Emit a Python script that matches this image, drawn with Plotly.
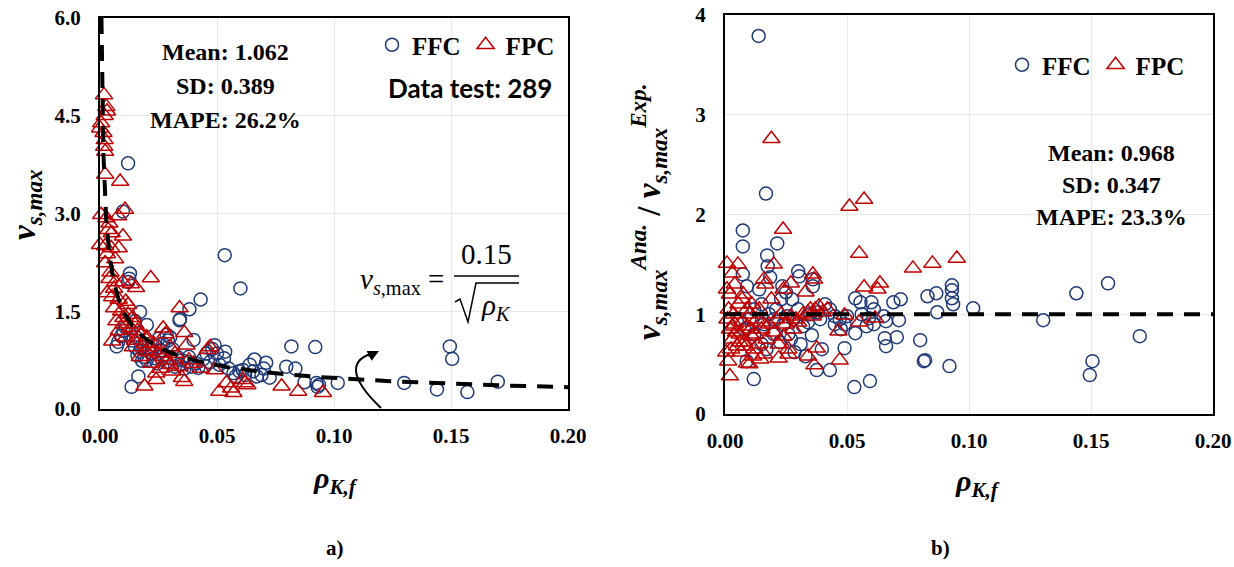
import numpy as np
import plotly.graph_objects as go

# ---------------- data ----------------
# (a) v_s,max vs rho_K,f
ffc_a_x = [0.0120,0.0098,0.0533,0.0600,0.0430,0.0382,0.0342,0.0340,0.0171,0.0200,0.0128,0.0125,0.0120,
           0.0818,0.0920,0.1495,0.1505,0.1300,0.1440,0.1570,0.1700,0.1016,0.0936,0.0930,0.0925,0.0874,
           0.0835,0.0796,0.0725,0.0710,0.0660,0.0690,0.0610,0.0595,0.0620,0.0535,0.0530,0.0490,0.0480,
           0.0455,0.0470,0.0440,0.0400,0.0410,0.0390,0.0375,0.0360,0.0340,0.0320,0.0300,0.0285,0.0290,
           0.0270,0.0260,0.0250,0.0235,0.0220,0.0210,0.0190,0.0180,0.0170,0.0160,0.0150,0.0140,0.0135,
           0.0164,0.0071,0.0078,0.0090,0.0100,0.0110,0.0130,0.0150,0.0155,0.0175,0.0200,0.0230,0.0270,
           0.0310,0.0330,0.0350,0.0380,0.0420,0.0450,0.0500,0.0510,0.0550,0.0570,0.0580,0.0640,0.0655,
           0.0670,0.0700,0.0245,0.0285,0.0265]
ffc_a_y = [3.77,3.03,2.36,1.85,1.68,1.53,1.38,1.36,1.49,1.29,2.08,2.00,1.95,
           0.96,0.95,0.96,0.77,0.40,0.30,0.26,0.42,0.40,0.37,0.34,0.40,0.41,
           0.62,0.65,0.48,0.71,0.76,0.52,0.60,0.58,0.52,0.88,0.78,0.98,0.92,
           0.85,0.72,0.76,1.06,0.70,0.65,0.72,0.62,0.68,0.65,1.10,1.14,1.05,
           1.00,0.90,1.08,0.98,0.85,0.92,0.80,0.74,0.88,0.82,0.95,1.05,0.34,
           0.50,0.96,1.03,1.12,1.20,1.25,1.15,1.35,1.10,0.95,0.75,0.78,0.82,
           0.92,0.80,0.75,0.80,0.63,0.66,0.85,0.68,0.62,0.55,0.50,0.68,0.58,
           0.50,0.62,0.70,0.72,0.76]
fpc_a_x = [0.0017,0.0027,0.0030,0.0020,0.0005,0.0000,0.0015,0.0020,0.0018,0.0022,0.0022,0.0086,0.0107,
           0.0078,0.0005,0.0027,0.0040,0.0035,0.0050,0.0098,0.0000,0.0022,0.0048,0.0080,0.0030,0.0022,
           0.0065,0.0217,0.0040,0.0065,0.0098,0.0132,0.0154,0.0030,0.0052,0.0080,0.0110,0.0060,0.0090,
           0.0120,0.0140,0.0070,0.0100,0.0130,0.0160,0.0180,0.0200,0.0052,0.0110,0.0150,0.0190,0.0210,
           0.0230,0.0250,0.0270,0.0280,0.0270,0.0300,0.0320,0.0340,0.0360,0.0370,0.0380,0.0400,0.0340,
           0.0220,0.0260,0.0300,0.0460,0.0470,0.0190,0.0240,0.0360,0.0350,0.0510,0.0560,0.0570,0.0610,
           0.0630,0.0776,0.0847,0.0953,0.0490,0.0430,0.0240,0.0170,0.0140,0.0080,0.0120,0.0045,0.0060,
           0.0100,0.0150,0.0200,0.0230,0.0290,0.0310,0.0540,0.0620]
fpc_a_y = [4.82,4.64,4.57,4.50,4.39,4.31,4.24,4.13,4.03,3.95,3.60,3.49,3.06,
           2.96,2.98,2.93,2.85,2.75,2.70,2.65,2.52,2.50,2.47,2.47,2.38,2.24,
           2.30,2.01,2.00,1.95,1.95,1.92,1.86,1.78,1.72,1.68,1.65,1.55,1.50,
           1.45,1.40,1.35,1.30,1.25,1.20,1.15,1.10,1.04,1.10,1.05,1.00,0.95,
           0.90,0.85,0.80,1.15,1.24,0.95,0.85,1.55,1.17,0.98,0.75,0.70,0.65,
           0.70,0.62,0.68,0.91,0.95,0.35,0.45,0.42,0.48,0.27,0.32,0.25,0.45,
           0.37,0.35,0.27,0.25,0.60,0.62,0.55,0.80,0.95,1.20,1.60,2.10,1.85,
           1.40,1.30,0.88,1.00,0.75,0.58,0.40,0.40]

# (b) ratio Ana./Exp. vs rho_K,f
ffc_b_x = [0.0138,0.0168,0.0073,0.0073,0.0214,0.0173,0.0175,0.0185,0.0073,0.0300,0.0305,0.0360,0.0360,
           0.0090,0.0140,0.0235,0.0250,0.0275,0.1570,0.1440,0.0930,0.0930,0.0930,0.0935,0.0866,0.0830,
           0.0720,0.0690,0.1017,0.0870,0.1304,0.1700,0.1506,0.1495,0.0920,0.0815,0.0820,0.0800,0.0704,
           0.0660,0.0655,0.0713,0.0660,0.0650,0.0594,0.0530,0.0430,0.0376,0.0397,0.0356,0.0490,0.0534,
           0.0534,0.0555,0.0600,0.0610,0.0610,0.0580,0.0490,0.0470,0.0450,0.0430,0.0410,0.0390,0.0118,
           0.0089,0.0100,0.0120,0.0150,0.0160,0.0180,0.0200,0.0210,0.0230,0.0240,0.0260,0.0270,0.0280,
           0.0300,0.0310,0.0320,0.0340,0.0350,0.0380,0.0150,0.0170,0.0200,0.0225,0.0255,0.0285,0.0330,
           0.0450,0.0475,0.0500,0.0560,0.0590,0.0120,0.0080,0.0060]
ffc_b_y = [3.79,2.21,1.84,1.68,1.71,1.59,1.48,1.37,1.40,1.43,1.38,1.35,1.28,
           1.28,1.25,1.28,1.22,1.15,1.31,1.21,1.29,1.24,1.16,1.10,1.21,1.18,
           1.15,1.12,1.06,1.02,0.94,0.78,0.53,0.39,0.48,0.53,0.54,0.74,0.77,
           0.68,0.76,0.94,0.93,0.98,0.33,0.27,0.44,0.44,0.65,0.79,0.66,0.81,
           1.16,1.12,1.12,1.05,0.90,0.88,0.90,0.95,0.98,1.05,1.10,0.95,0.35,
           0.53,0.95,1.05,1.10,0.90,1.00,0.95,1.05,1.15,0.90,0.80,0.75,0.95,
           1.05,0.70,0.88,0.92,1.00,1.02,0.70,0.65,0.80,0.72,0.98,0.62,0.58,
           0.90,0.85,0.98,1.00,0.96,0.80,0.85,0.95]
fpc_b_x = [0.0190,0.0570,0.0510,0.0238,0.0550,0.0950,0.0850,0.0770,0.0008,0.0053,0.0030,0.0200,0.0008,
           0.0360,0.0365,0.0270,0.0240,0.0330,0.0160,0.0165,0.0635,0.0625,0.0570,0.0615,0.0490,0.0550,
           0.0465,0.0470,0.0376,0.0366,0.0340,0.0220,0.0090,0.0100,0.0020,0.0013,0.0010,0.0020,0.0030,
           0.0040,0.0050,0.0060,0.0070,0.0080,0.0090,0.0100,0.0110,0.0120,0.0130,0.0140,0.0150,0.0160,
           0.0170,0.0180,0.0190,0.0200,0.0210,0.0220,0.0230,0.0250,0.0260,0.0270,0.0280,0.0290,0.0300,
           0.0320,0.0340,0.0350,0.0370,0.0385,0.0400,0.0420,0.0005,0.0015,0.0025,0.0035,0.0045,0.0055,
           0.0065,0.0075,0.0085,0.0105,0.0115,0.0125,0.0135,0.0145,0.0020,0.0040,0.0070,0.0090,0.0110,
           0.0060,0.0030,0.0260,0.0150,0.0240,0.0360]
fpc_b_y = [2.76,2.15,2.08,1.85,1.61,1.56,1.51,1.46,1.51,1.50,1.41,1.50,1.25,
           1.40,1.35,1.31,1.25,1.22,1.35,1.30,1.31,1.25,1.27,0.96,0.99,0.92,
           0.83,0.54,0.66,0.49,0.58,0.56,0.51,0.50,0.38,0.53,0.95,0.85,0.75,
           0.90,0.68,0.80,0.92,0.72,0.88,1.00,0.78,0.65,0.95,1.05,0.85,0.60,
           0.75,0.90,1.15,0.82,0.95,0.70,1.00,0.90,0.65,0.98,0.85,0.95,0.92,
           1.00,1.02,1.05,1.05,1.08,1.02,1.05,0.62,1.05,0.65,1.00,0.82,1.10,
           0.62,1.20,0.68,0.85,0.58,0.80,0.70,0.55,1.20,1.30,1.15,1.05,1.10,
           0.72,0.88,0.60,0.92,0.78,0.98]

# model line v_s,max = 0.15 / sqrt(rho_K), drawn from the top of the axis (v = 6)
coef = 0.15
fit_x = np.geomspace((coef / 6.0) ** 2, 0.2, 400)
fit_y = coef / np.sqrt(fit_x)
ratio_x = [0.0, 0.2]
ratio_y = [1.0, 1.0]

x_ticks = [0.0, 0.05, 0.10, 0.15, 0.20]

# ---------------- styling ----------------
W, H = 1234, 567
BLUE = "#1F3A78"
RED = "#C00000"
SERIF = "Liberation Serif"


def px(x):
    return x / W


def py(y):
    return 1 - y / H


fig = go.Figure()

mk_c = dict(symbol="circle-open", size=13, color=BLUE, line=dict(width=1.5, color=BLUE))
mk_t = dict(symbol="triangle-up-open", size=15, color=RED, line=dict(width=1.5, color=RED))

fig.add_trace(go.Scatter(x=ffc_a_x, y=ffc_a_y, mode="markers", marker=mk_c, name="FFC",
                         xaxis="x", yaxis="y", legend="legend", cliponaxis=False))
fig.add_trace(go.Scatter(x=fpc_a_x, y=fpc_a_y, mode="markers", marker=mk_t, name="FPC",
                         xaxis="x", yaxis="y", legend="legend", cliponaxis=False))
fig.add_trace(go.Scatter(x=fit_x, y=fit_y, mode="lines", showlegend=False,
                         line=dict(color="black", width=4, dash="16px,11px"),
                         xaxis="x", yaxis="y", hoverinfo="skip"))

fig.add_trace(go.Scatter(x=ffc_b_x, y=ffc_b_y, mode="markers", marker=mk_c, name="FFC",
                         xaxis="x2", yaxis="y2", legend="legend2", cliponaxis=False))
fig.add_trace(go.Scatter(x=fpc_b_x, y=fpc_b_y, mode="markers", marker=mk_t, name="FPC",
                         xaxis="x2", yaxis="y2", legend="legend2", cliponaxis=False))
fig.add_trace(go.Scatter(x=ratio_x, y=ratio_y, mode="lines", showlegend=False,
                         line=dict(color="black", width=4, dash="16px,11px"),
                         xaxis="x2", yaxis="y2", hoverinfo="skip"))

tickfont = dict(family=SERIF, size=21, color="black", weight="bold")
common_ax = dict(showline=True, linecolor="black", linewidth=2, mirror=True,
                 showgrid=True, gridcolor="#E8E8E8", gridwidth=1, zeroline=False,
                 ticks="", tickfont=tickfont, automargin=False)

fig.update_layout(
    width=W, height=H, margin=dict(l=0, r=0, t=0, b=0, autoexpand=False),
    paper_bgcolor="white", plot_bgcolor="white",
    font=dict(family=SERIF, color="black"),
    xaxis=dict(domain=[px(100), px(568)], range=[0, 0.2], tickvals=x_ticks,
               tickformat=".2f", anchor="y", ticklabelstandoff=7, **common_ax),
    yaxis=dict(domain=[py(409), py(18)], range=[0, 6], dtick=1.5, tickformat=".1f",
               anchor="x", ticklabelstandoff=13, **common_ax),
    xaxis2=dict(domain=[px(725), px(1213)], range=[0, 0.2], tickvals=x_ticks,
                tickformat=".2f", anchor="y2", ticklabelstandoff=7, **common_ax),
    yaxis2=dict(domain=[py(414), py(15)], range=[0, 4], dtick=1, tickformat="d",
                anchor="x2", ticklabelstandoff=13, **common_ax),
    legend=dict(orientation="h", x=px(560), xanchor="right", y=py(45), yanchor="middle",
                font=dict(family=SERIF, size=25, color="black", weight="bold"),
                bgcolor="rgba(0,0,0,0)", itemwidth=30, tracegroupgap=0),
    legend2=dict(orientation="h", x=px(1190), xanchor="right", y=py(65), yanchor="middle",
                 font=dict(family=SERIF, size=25, color="black", weight="bold"),
                 bgcolor="rgba(0,0,0,0)", itemwidth=30, tracegroupgap=0),
    showlegend=True,
)

ann = []


def text(x, y, t, size, family=SERIF, xanchor="center", angle=0, color="black"):
    ann.append(dict(x=px(x), y=py(y), xref="paper", yref="paper", text=t, showarrow=False,
                    xanchor=xanchor, yanchor="middle", textangle=angle,
                    font=dict(family=family, size=size, color=color)))


# statistics (a)
text(225, 52, "<b>Mean: 1.062</b>", 24)
text(225, 86, "<b>SD: 0.389</b>", 24)
text(225, 120, "<b>MAPE: 26.2%</b>", 24)
text(554, 88, "<b>Data test: 289</b>", 26, family="Lato", xanchor="right")
# statistics (b)
text(1111, 153, "<b>Mean: 0.968</b>", 24)
text(1111, 185, "<b>SD: 0.347</b>", 24)
text(1111, 217, "<b>MAPE: 23.3%</b>", 24)

# axis titles
text(335, 480, "<b><i>ρ</i></b><sub><b><i>K,f</i></b></sub>", 30)
text(977, 483, "<b><i>ρ</i></b><sub><b><i>K,f</i></b></sub>", 30)
text(27, 205, "<b><i>v</i></b><sub><b><i>s,max</i></b></sub>", 33, angle=-90)
text(648, 211, "<b><i>v</i></b><sub><b><i>s,max</i></b></sub><sup><b><i>Ana.</i></b></sup>"
               "<b> / </b><b><i>v</i></b><sub><b><i>s,max</i></b></sub><sup><b><i>Exp.</i></b></sup>",
     33, angle=-90)

# panel labels
text(335, 548, "<b>a)</b>", 21)
text(940, 548, "<b>b)</b>", 21)

# formula
text(446, 281, "<i>v</i><sub><i>s</i>,max</sub> =", 29, xanchor="right")
text(487, 254, "0.15", 29)
text(496, 307, "<i>ρ</i><sub><i>K</i></sub>", 29)

# arrowhead of curved arrow
ann.append(dict(x=px(379), y=py(351), xref="paper", yref="paper", text="", showarrow=True,
                ax=-12, ay=6, arrowhead=2, arrowsize=1.1, arrowwidth=2, arrowcolor="black"))

fig.update_layout(annotations=ann)


def P(x, y):
    return f"{px(x):.5f},{py(y):.5f}"


shapes = [
    # fraction bar
    dict(type="line", xref="paper", yref="paper", x0=px(454), x1=px(519), y0=py(276), y1=py(276),
         line=dict(color="black", width=1.5)),
    # radical sign
    dict(type="path", xref="paper", yref="paper",
         path=f"M {P(455,302)} L {P(460,299)} L {P(468,322)} L {P(476,283)} L {P(519,283)}",
         line=dict(color="black", width=1.5)),
    # curved arrow body
    dict(type="path", xref="paper", yref="paper",
         path=f"M {P(381,408)} Q {P(333,362)} {P(377,352)}",
         line=dict(color="black", width=2)),
]
fig.update_layout(shapes=shapes)

fig.write_html("out.html", config={"displayModeBar": False},
               post_script="document.body.style.margin='0';document.body.style.overflow='hidden';")
